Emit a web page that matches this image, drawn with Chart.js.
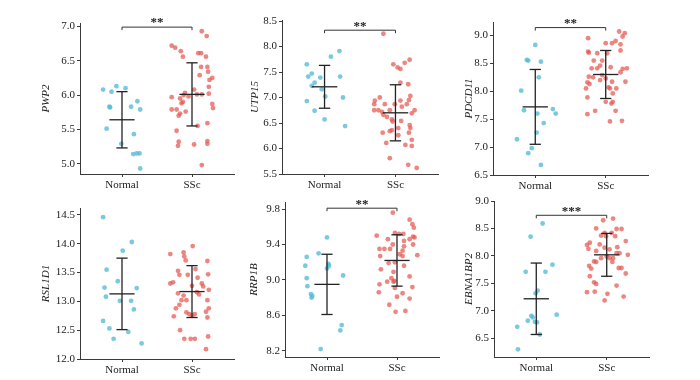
<!DOCTYPE html>
<html>
<head>
<meta charset="utf-8">
<script src="https://cdn.jsdelivr.net/npm/chart.js@4.4.1/dist/chart.umd.min.js"></script>
<style>
  body { margin: 0; background: #fff; width: 700px; height: 380px; position: relative; overflow: hidden; }
  canvas { position: absolute; }
</style>
</head>
<body>
<canvas id="c1"></canvas>
<canvas id="c2"></canvas>
<canvas id="c3"></canvas>
<canvas id="c4"></canvas>
<canvas id="c5"></canvas>
<canvas id="c6"></canvas>
<script>
const groups = ['Normal', 'SSc'];

// PWP2
const pwp2Normal = [6.08, 6.05, 6.13, 6.10, 5.83, 5.82, 5.83, 5.91, 5.79, 5.51, 5.43, 5.29, 5.14, 5.15, 5.15, 4.93];
const pwp2NormalJit = [-0.27, -0.15, -0.08, 0.05, -0.18, -0.17, 0.13, 0.22, 0.26, -0.22, 0.17, -0.01, 0.16, 0.21, 0.25, 0.26];
const pwp2SSc = [4.98, 5.28, 5.32, 5.26, 5.33, 5.29, 5.48, 5.55, 5.59, 5.79, 5.79, 5.73, 5.70, 5.76, 5.97, 5.88, 5.95, 6.00, 6.03, 6.08, 6.01, 6.01, 6.02, 5.87, 5.81, 6.12, 6.22, 6.25, 6.29, 6.41, 6.41, 6.34, 6.56, 6.61, 6.61, 6.56, 6.64, 6.72, 6.69, 6.93, 6.86, 5.98, 5.90];
const pwp2SScJit = [0.14, 0.03, -0.19, -0.20, 0.22, 0.22, -0.22, 0.08, 0.22, -0.29, -0.22, -0.17, -0.19, -0.09, -0.29, -0.15, -0.17, -0.12, -0.10, 0.03, 0.07, 0.14, 0.24, 0.29, 0.30, 0.24, 0.25, 0.29, 0.11, 0.13, 0.22, 0.23, 0.20, 0.09, 0.13, -0.13, -0.16, -0.29, -0.24, 0.14, 0.21, -0.05, -0.13];
const pwp2Mean = [5.64, 6.01];
const pwp2SD = [0.41, 0.46];
const pwp2Ticks = [5.0, 5.5, 6.0, 6.5, 7.0];

// UTP15
const utp15Normal = [7.65, 7.47, 7.41, 7.29, 7.23, 7.39, 7.16, 7.02, 6.93, 6.74, 6.57, 7.80, 7.91, 7.41, 7.00, 6.44];
const utp15NormalJit = [-0.25, -0.18, -0.23, -0.14, -0.18, -0.06, -0.04, 0.01, -0.25, -0.14, 0.00, 0.09, 0.21, 0.22, 0.26, 0.29];
const utp15SSc = [8.25, 7.65, 7.59, 7.56, 7.68, 7.74, 7.29, 7.26, 7.03, 6.95, 7.00, 6.94, 6.87, 6.87, 6.87, 6.94, 6.87, 6.75, 6.75, 6.72, 6.75, 6.82, 6.75, 6.69, 6.66, 6.62, 6.57, 6.53, 6.54, 6.46, 6.40, 6.40, 6.36, 6.34, 6.31, 6.31, 6.26, 6.17, 6.11, 6.07, 6.05, 5.81, 5.68, 5.62];
const utp15SScJit = [-0.17, -0.03, 0.03, 0.07, 0.13, 0.20, 0.07, 0.18, 0.21, 0.19, -0.22, -0.29, -0.30, -0.15, -0.01, 0.07, 0.16, -0.30, -0.24, -0.19, -0.08, 0.09, 0.27, 0.23, -0.17, -0.12, -0.05, -0.04, 0.08, 0.20, 0.21, 0.04, -0.05, -0.08, -0.18, 0.19, 0.04, 0.23, -0.13, 0.14, 0.23, -0.08, 0.18, 0.30];
const utp15Mean = [7.21, 6.70];
const utp15SD = [0.42, 0.55];
const utp15Ticks = [5.5, 6.0, 6.5, 7.0, 7.5, 8.0, 8.5];

// PDCD11
const pdcd11Normal = [8.83, 8.56, 8.55, 8.53, 8.25, 8.01, 7.66, 7.60, 7.68, 7.60, 7.43, 7.26, 7.14, 6.98, 6.89, 6.68];
const pdcd11NormalJit = [0.00, -0.12, -0.10, 0.08, 0.05, -0.20, -0.16, 0.03, 0.25, 0.29, 0.12, 0.02, -0.26, -0.05, -0.10, 0.08];
const pdcd11SSc = [8.95, 9.07, 9.04, 8.98, 8.86, 8.86, 8.90, 8.84, 8.71, 8.69, 8.68, 8.68, 8.73, 8.55, 8.55, 8.41, 8.41, 8.46, 8.43, 8.40, 8.41, 8.34, 8.26, 8.25, 8.20, 8.29, 8.23, 8.17, 8.16, 8.13, 8.17, 8.05, 8.07, 8.05, 8.05, 7.96, 7.89, 7.81, 7.78, 7.81, 7.65, 7.65, 7.59, 7.46, 7.47];
const pdcd11SScJit = [-0.25, 0.19, 0.27, 0.24, 0.00, 0.09, 0.14, 0.21, -0.25, -0.24, -0.12, 0.02, 0.21, -0.17, -0.05, -0.20, -0.12, -0.08, 0.07, 0.24, 0.30, 0.21, -0.24, -0.18, -0.08, -0.05, 0.00, 0.09, -0.26, -0.23, 0.28, -0.28, 0.04, 0.06, 0.15, 0.10, -0.26, 0.00, 0.08, 0.10, -0.15, 0.14, -0.26, 0.06, 0.23];
const pdcd11Mean = [7.72, 8.30];
const pdcd11SD = [0.67, 0.43];
const pdcd11Ticks = [6.5, 7.0, 7.5, 8.0, 8.5, 9.0];

// RSL1D1
const rsl1d1Normal = [14.46, 14.03, 13.88, 13.55, 13.35, 13.24, 13.23, 13.08, 13.01, 13.01, 12.86, 12.66, 12.53, 12.47, 12.35, 12.27];
const rsl1d1NormalJit = [-0.27, 0.14, 0.01, -0.22, -0.06, -0.25, 0.21, -0.23, -0.03, 0.13, 0.17, -0.27, -0.18, 0.09, -0.12, 0.28];
const rsl1d1SSc = [13.82, 13.85, 13.96, 13.70, 13.78, 13.71, 13.53, 13.46, 13.46, 13.56, 13.41, 13.47, 13.31, 13.26, 13.31, 13.33, 13.27, 13.14, 13.10, 13.12, 13.20, 13.02, 13.02, 12.88, 12.94, 13.02, 12.88, 12.82, 12.81, 12.75, 12.74, 12.72, 12.50, 12.35, 12.35, 12.35, 12.39, 12.17, 12.78, 12.78, 13.16];
const rsl1d1SScJit = [-0.31, -0.12, 0.01, 0.22, -0.11, -0.09, -0.20, -0.18, -0.06, 0.05, 0.08, 0.23, 0.14, 0.16, -0.31, -0.27, 0.00, -0.20, -0.12, 0.10, 0.24, -0.15, -0.08, -0.23, -0.18, 0.22, 0.24, 0.20, -0.08, 0.00, -0.26, 0.22, -0.17, -0.11, -0.02, 0.04, 0.23, 0.20, 0.04, -0.04, 0.07];
const rsl1d1Mean = [13.13, 13.17];
const rsl1d1SD = [0.62, 0.45];
const rsl1d1Ticks = [12.0, 12.5, 13.0, 13.5, 14.0, 14.5];

// RRP1B
const rrp1bNormal = [9.48, 9.26, 9.30, 9.16, 9.18, 9.13, 9.16, 9.02, 9.05, 8.93, 8.84, 8.82, 8.80, 8.49, 8.43, 8.22];
const rrp1bNormalJit = [0.00, -0.29, -0.12, -0.31, 0.02, 0.00, 0.03, -0.29, 0.23, -0.28, -0.23, -0.21, -0.22, 0.21, 0.19, -0.09];
const rrp1bSSc = [9.76, 9.68, 9.63, 9.59, 9.50, 9.53, 9.52, 9.52, 9.49, 9.48, 9.46, 9.46, 9.44, 9.40, 9.40, 9.38, 9.35, 9.35, 9.35, 9.33, 9.29, 9.28, 9.27, 9.27, 9.20, 9.19, 9.16, 9.12, 9.09, 9.04, 9.02, 8.99, 8.98, 8.98, 8.95, 8.92, 8.91, 8.85, 8.86, 8.79, 8.81, 8.72, 8.64, 8.65];
const rrp1bSScJit = [-0.06, 0.18, 0.22, 0.24, -0.29, -0.03, 0.03, 0.09, 0.23, 0.25, 0.18, -0.13, 0.10, -0.06, 0.23, 0.10, -0.25, -0.18, -0.10, 0.08, 0.04, 0.29, -0.24, 0.08, -0.03, -0.12, 0.10, -0.23, -0.05, 0.18, -0.08, -0.04, -0.14, -0.05, -0.25, 0.22, -0.03, 0.08, -0.26, 0.18, 0.00, -0.11, -0.02, 0.12];
const rrp1bMean = [8.95, 9.22];
const rrp1bSD = [0.34, 0.29];
const rrp1bTicks = [8.2, 8.6, 9.0, 9.4, 9.8];

// EBNA1BP2
const ebnaNormal = [8.59, 8.35, 7.71, 7.71, 7.84, 7.37, 7.32, 6.91, 6.88, 6.82, 6.80, 6.79, 6.93, 6.71, 6.57, 6.30];
const ebnaNormalJit = [0.09, -0.08, -0.15, 0.13, 0.23, 0.02, -0.01, -0.07, -0.05, -0.12, -0.02, 0.01, 0.29, -0.27, 0.05, -0.26];
const ebnaSSc = [8.65, 8.68, 8.50, 8.49, 8.49, 8.37, 8.42, 8.42, 8.36, 8.36, 8.24, 8.20, 8.13, 8.27, 8.21, 8.15, 8.12, 8.16, 8.09, 7.96, 7.99, 7.96, 8.05, 8.05, 8.02, 7.82, 7.77, 7.90, 7.89, 7.89, 7.78, 7.78, 7.68, 7.63, 7.52, 7.49, 7.46, 7.35, 7.34, 7.31, 7.26, 7.19, 7.96];
const ebnaSScJit = [-0.05, 0.09, -0.15, 0.14, 0.21, -0.08, -0.03, 0.07, 0.12, -0.01, -0.24, -0.28, -0.26, 0.27, -0.10, -0.03, 0.04, 0.15, -0.15, -0.08, 0.00, 0.04, 0.14, 0.18, 0.30, -0.25, -0.22, -0.18, -0.15, 0.08, 0.17, 0.21, 0.27, -0.24, -0.18, -0.15, 0.14, -0.17, -0.28, 0.01, 0.24, -0.03, 0.09];
const ebnaMean = [7.22, 8.02];
const ebnaSD = [0.65, 0.39];
const ebnaTicks = [6.5, 7.0, 7.5, 8.0, 8.5, 9.0];

const BLUE = 'rgba(84,186,214,0.78)';
const RED = 'rgba(228,88,80,0.72)';
const AXIS = '#3a3a3a';
const SERIF = "'Liberation Serif', 'DejaVu Serif', serif";

const panels = [
  { id: 'c1', gene: 'PWP2', normal: pwp2Normal, nJit: pwp2NormalJit, ssc: pwp2SSc, sJit: pwp2SScJit, mean: pwp2Mean, sd: pwp2SD, ticks: pwp2Ticks,
    min: 4.85, max: 7.05, sig: '**', sigY: 6.99, left: 40, top: 0, area: { left: 80, top: 23, right: 234, bottom: 174 } },
  { id: 'c2', gene: 'UTP15', normal: utp15Normal, nJit: utp15NormalJit, ssc: utp15SSc, sJit: utp15SScJit, mean: utp15Mean, sd: utp15SD, ticks: utp15Ticks,
    min: 5.5, max: 8.52, sig: '**', sigY: 8.32, left: 249, top: 0, area: { left: 282, top: 20, right: 438, bottom: 174 } },
  { id: 'c3', gene: 'PDCD11', normal: pdcd11Normal, nJit: pdcd11NormalJit, ssc: pdcd11SSc, sJit: pdcd11SScJit, mean: pdcd11Mean, sd: pdcd11SD, ticks: pdcd11Ticks,
    min: 6.5, max: 9.24, sig: '**', sigY: 9.14, left: 463, top: 0, area: { left: 493, top: 22, right: 648, bottom: 175 } },
  { id: 'c4', gene: 'RSL1D1', normal: rsl1d1Normal, nJit: rsl1d1NormalJit, ssc: rsl1d1SSc, sJit: rsl1d1SScJit, mean: rsl1d1Mean, sd: rsl1d1SD, ticks: rsl1d1Ticks,
    min: 12.0, max: 14.62, sig: null, sigY: null, left: 40, top: 190, area: { left: 80, top: 208, right: 234, bottom: 359 } },
  { id: 'c5', gene: 'RRP1B', normal: rrp1bNormal, nJit: rrp1bNormalJit, ssc: rrp1bSSc, sJit: rrp1bSScJit, mean: rrp1bMean, sd: rrp1bSD, ticks: rrp1bTicks,
    min: 8.13, max: 9.88, sig: '**', sigY: 9.81, left: 248, top: 190, area: { left: 285, top: 202, right: 439, bottom: 357 } },
  { id: 'c6', gene: 'EBNA1BP2', normal: ebnaNormal, nJit: ebnaNormalJit, ssc: ebnaSSc, sJit: ebnaSScJit, mean: ebnaMean, sd: ebnaSD, ticks: ebnaTicks,
    min: 6.16, max: 9.0, sig: '***', sigY: 8.74, left: 463, top: 190, area: { left: 494, top: 201, right: 649, bottom: 357 } }
];

// mean +/- SD bars and the significance bracket
const meanSd = {
  id: 'meanSd',
  afterDatasetsDraw(chart, args, o) {
    const { ctx, scales: { x, y } } = chart;
    ctx.save();
    ctx.strokeStyle = '#222';
    ctx.lineWidth = 1.3;
    const seg = (x1, y1, x2, y2) => { ctx.beginPath(); ctx.moveTo(x1, y1); ctx.lineTo(x2, y2); ctx.stroke(); };
    o.mean.forEach((m, i) => {
      const cx = x.getPixelForValue(i + 1);
      const cap = x.getPixelForValue(i + 1.08) - cx;
      const half = x.getPixelForValue(i + 1.18) - cx;
      const top = y.getPixelForValue(m + o.sd[i]);
      const bot = y.getPixelForValue(m - o.sd[i]);
      const my = y.getPixelForValue(m);
      seg(cx, top, cx, bot);
      seg(cx - cap, top, cx + cap, top);
      seg(cx - cap, bot, cx + cap, bot);
      seg(cx - half, my, cx + half, my);
    });
    if (o.sig) {
      const x1 = x.getPixelForValue(1), x2 = x.getPixelForValue(2);
      const by = y.getPixelForValue(o.sigY);
      ctx.lineWidth = 1;
      ctx.strokeStyle = '#333';
      ctx.beginPath();
      ctx.moveTo(x1, by + 3); ctx.lineTo(x1, by); ctx.lineTo(x2, by); ctx.lineTo(x2, by + 3);
      ctx.stroke();
      ctx.fillStyle = '#222';
      ctx.font = 'bold 13px ' + SERIF;
      ctx.textAlign = 'center';
      ctx.textBaseline = 'middle';
      ctx.fillText(o.sig, (x1 + x2) / 2, by - 4);
    }
    ctx.restore();
  }
};

function makeChart(p) {
  const canvas = document.getElementById(p.id);
  const W = p.area.right + 12 - p.left;
  const H = p.area.bottom + 26 - p.top;
  canvas.width = W;
  canvas.height = H;
  canvas.style.left = p.left + 'px';
  canvas.style.top = p.top + 'px';
  const xAxisH = H - (p.area.bottom - p.top);
  const yAxisW = p.area.left - p.left;

  new Chart(canvas, {
    type: 'scatter',
    data: {
      datasets: [
        { data: p.normal.map((v, i) => ({ x: 1 + p.nJit[i], y: v })), backgroundColor: BLUE, pointRadius: 2.4, pointBorderWidth: 0, pointHoverRadius: 2.4 },
        { data: p.ssc.map((v, i) => ({ x: 2 + p.sJit[i], y: v })), backgroundColor: RED, pointRadius: 2.4, pointBorderWidth: 0, pointHoverRadius: 2.4 }
      ]
    },
    options: {
      responsive: false,
      animation: false,
      events: [],
      layout: { padding: { top: p.area.top - p.top, right: W - (p.area.right - p.left), left: 0, bottom: 0 } },
      plugins: {
        legend: { display: false },
        tooltip: { enabled: false },
        meanSd: { mean: p.mean, sd: p.sd, sig: p.sig, sigY: p.sigY }
      },
      scales: {
        x: {
          type: 'linear',
          min: 0.4,
          max: 2.6,
          afterBuildTicks: s => { s.ticks = [{ value: 1 }, { value: 2 }]; },
          afterFit: s => { s.height = xAxisH; },
          grid: { drawOnChartArea: false, tickLength: 3, color: AXIS },
          border: { color: AXIS, width: 1 },
          ticks: { callback: v => groups[v - 1], color: '#222', font: { family: SERIF, size: 11 }, padding: 2, maxRotation: 0 }
        },
        y: {
          min: p.min,
          max: p.max,
          afterBuildTicks: s => { s.ticks = p.ticks.map(v => ({ value: v })); },
          afterFit: s => { s.width = yAxisW; },
          grid: { drawOnChartArea: false, tickLength: 3, color: AXIS },
          border: { color: AXIS, width: 1 },
          ticks: { callback: v => Number(v).toFixed(1), color: '#222', font: { family: SERIF, size: 11 }, padding: 2 },
          title: { display: true, text: p.gene, color: '#222', font: { family: SERIF, size: 11, style: 'italic' }, padding: 0 }
        }
      }
    },
    plugins: [meanSd]
  });
}

panels.forEach(makeChart);
</script>
</body>
</html>
